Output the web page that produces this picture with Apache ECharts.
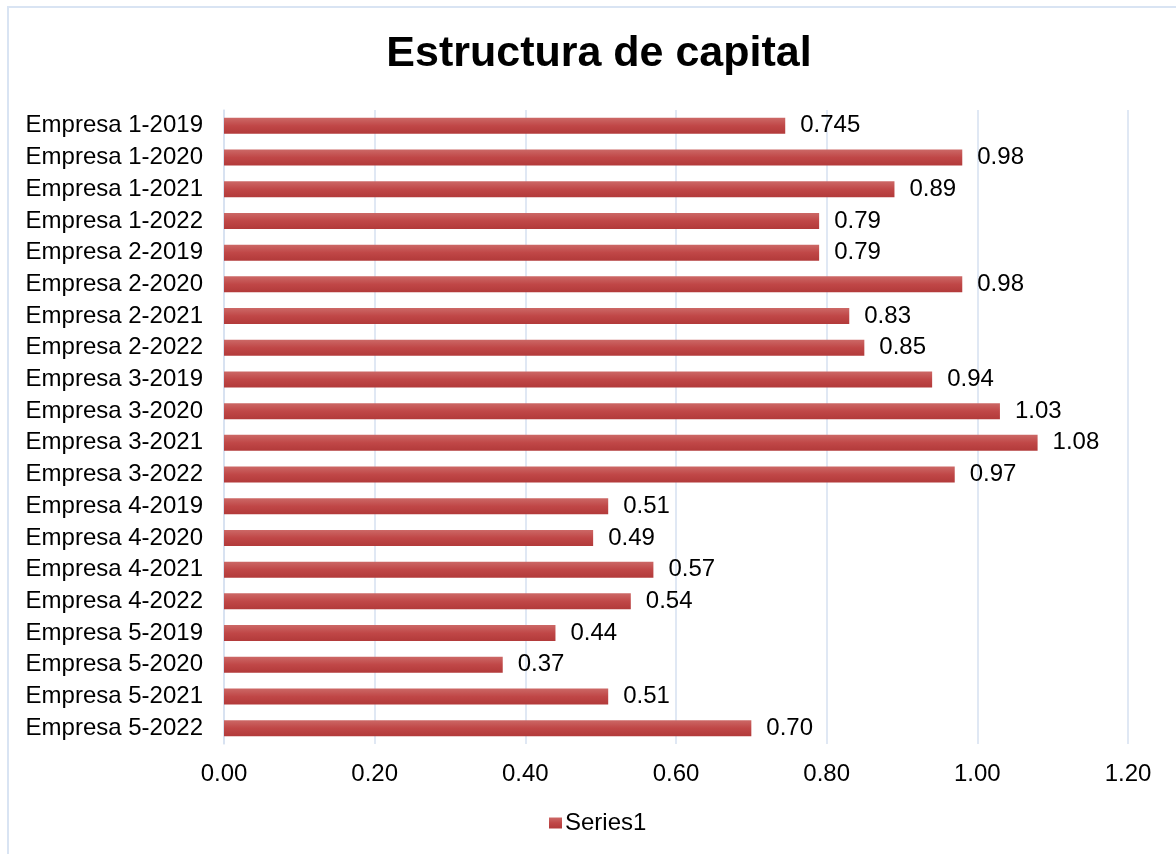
<!DOCTYPE html>
<html>
<head>
<meta charset="utf-8">
<script src="https://cdn.jsdelivr.net/npm/echarts@6/dist/echarts.min.js"></script>
<style>
	* {
		margin: 0;
		padding: 0;
	}

	body {
		background: #fff;
	}

	.frame {
		position: absolute;
		left: 7px;
		top: 6px;
		width: 1200px;
		height: 900px;
		border: 2px solid #d9e4f3;
	}

	.chart {
		position: absolute;
		left: 0;
		top: 0;
		width: 1176px;
		height: 854px;
	}
</style>
</head>
<body>
<div class="frame"></div>
<div id="barChart" class="chart"></div>
<script>
	var categories = [
		'Empresa 1-2019', 'Empresa 1-2020', 'Empresa 1-2021', 'Empresa 1-2022',
		'Empresa 2-2019', 'Empresa 2-2020', 'Empresa 2-2021', 'Empresa 2-2022',
		'Empresa 3-2019', 'Empresa 3-2020', 'Empresa 3-2021', 'Empresa 3-2022',
		'Empresa 4-2019', 'Empresa 4-2020', 'Empresa 4-2021', 'Empresa 4-2022',
		'Empresa 5-2019', 'Empresa 5-2020', 'Empresa 5-2021', 'Empresa 5-2022'
	];
	var series1 = [
		0.745, 0.98, 0.89, 0.79,
		0.79, 0.98, 0.83, 0.85,
		0.94, 1.03, 1.08, 0.97,
		0.51, 0.49, 0.57, 0.54,
		0.44, 0.37, 0.51, 0.70
	];

	var font = '"Liberation Sans", Arial, sans-serif';

	// 2 decimales, salvo que el valor tenga más (0.745)
	function fmt(v) {
		var c = v * 100;
		return Math.abs(c - Math.round(c)) < 1e-9 ? v.toFixed(2) : String(v);
	}

	var barColor = new echarts.graphic.LinearGradient(0, 0, 0, 1, [
		{ offset: 0, color: '#cc6866' },
		{ offset: 0.5, color: '#c04747' },
		{ offset: 1, color: '#b23a3a' }
	]);

	var chart = echarts.init(document.getElementById('barChart'));
	chart.setOption({
		title: {
			text: 'Estructura de capital',
			left: 594,
			top: 28,
			textAlign: 'center',
			textStyle: {
				fontFamily: font,
				fontSize: 43,
				fontWeight: 'bold',
				color: '#000'
			}
		},
		legend: {
			data: ['Series1'],
			top: 806,
			left: 544,
			itemWidth: 13,
			itemHeight: 11,
			itemGap: 4,
			icon: 'rect',
			textStyle: {
				fontFamily: font,
				fontSize: 24,
				color: '#000',
				padding: [0, 0, 0, -2]
			}
		},
		grid: {
			left: 224,
			right: 48,
			top: 110,
			bottom: 110,
			containLabel: false
		},
		xAxis: {
			type: 'value',
			min: 0,
			max: 1.2,
			interval: 0.2,
			axisLine: { show: false },
			axisTick: { show: false },
			splitLine: {
				lineStyle: { color: '#d6e1f1', width: 1.5 }
			},
			axisLabel: {
				margin: 18,
				fontFamily: font,
				fontSize: 24,
				color: '#000',
				formatter: function(v) { return v.toFixed(2); }
			}
		},
		yAxis: {
			type: 'category',
			data: categories,
			inverse: true,
			axisLine: { show: true, lineStyle: { color: '#d6e1f1', width: 1.5 } },
			axisTick: { show: false },
			axisLabel: {
				margin: 21,
				fontFamily: font,
				fontSize: 24,
				color: '#000'
			}
		},
		series: [{
			name: 'Series1',
			type: 'bar',
			data: series1,
			barWidth: 16,
			itemStyle: { color: barColor },
			label: {
				show: true,
				position: 'right',
				distance: 15,
				fontFamily: font,
				fontSize: 24,
				color: '#000',
				formatter: function(p) { return fmt(p.value); }
			}
		}]
	});
</script>
</body>
</html>
